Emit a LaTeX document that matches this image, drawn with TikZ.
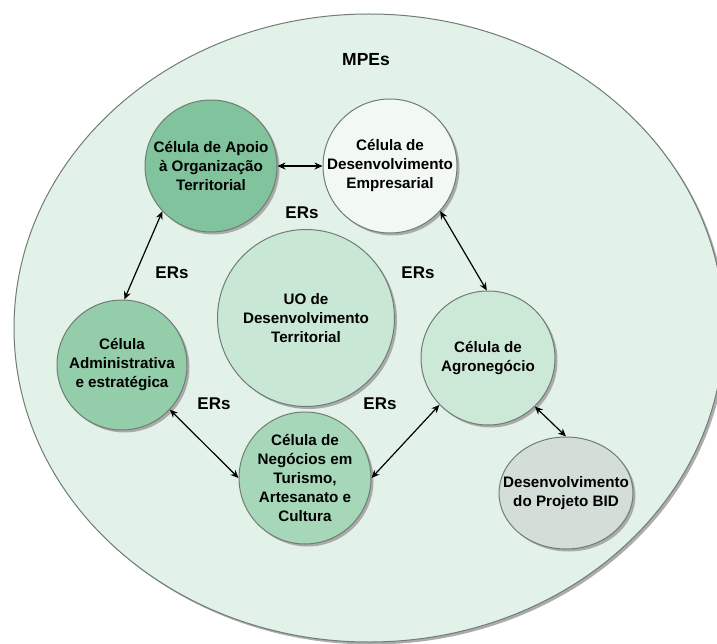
\documentclass[tikz,border=0pt]{standalone}
\usepackage{fontspec}
\setmainfont{Liberation Sans}
\usetikzlibrary{shapes.geometric,shadows,arrows.meta}

\definecolor{mpefill}{HTML}{E3F2E9}
\definecolor{apoiofill}{HTML}{80C39C}
\definecolor{admfill}{HTML}{93CDAA}
\definecolor{negfill}{HTML}{A6D7B9}
\definecolor{uofill}{HTML}{C9E7D5}
\definecolor{agrofill}{HTML}{CCE9D7}
\definecolor{empfill}{HTML}{F2F9F4}
\definecolor{bidfill}{HTML}{D4DED8}
\definecolor{rim}{HTML}{6F7D74}
\definecolor{shade}{HTML}{A3A3A3}

\tikzset{
  cell/.style={circle, draw=rim, line width=1pt, inner sep=0pt,
    drop shadow={shadow xshift=2.5pt, shadow yshift=-2.5pt, fill=shade, opacity=0.9}},
  celltext/.style={align=center, inner sep=0pt,
    font=\bfseries\fontsize{15.2}{19}\selectfont},
  erlabel/.style={inner sep=0pt, font=\bfseries\fontsize{17}{18}\selectfont},
  link/.style={{Stealth[length=8pt,width=7pt]}-{Stealth[length=8pt,width=7pt]}, line width=1.2pt, black},
}

\begin{document}
\begin{tikzpicture}[x=1pt, y=-1pt]
\useasboundingbox (0,0) rectangle (717,644);

% outer field of small businesses
\node (mpe) [ellipse, draw=rim, line width=1pt, fill=mpefill, inner sep=0pt,
  minimum width=710pt, minimum height=628pt,
  drop shadow={shadow xshift=2.5pt, shadow yshift=-2.5pt, fill=shade, opacity=0.9}] at (369,328) {};
\node (mpetitle) [inner sep=0pt, font=\bfseries\fontsize{17.5}{20}\selectfont] at (366,60) {MPEs};

% cells
\node (apoio) [cell, fill=apoiofill, minimum size=132pt] at (211,166) {};
\node (emp)   [cell, fill=empfill,   minimum size=134pt] at (390,166) {};
\node (adm)   [cell, fill=admfill,   minimum size=130pt] at (122,365) {};
\node (uo)    [cell, fill=uofill,    minimum size=177pt] at (306,318) {};
\node (agro)  [cell, fill=agrofill,  minimum size=134pt] at (488,358) {};
\node (neg)   [cell, fill=negfill,   minimum size=132pt] at (305,478) {};
\node (bid)   [cell, ellipse, fill=bidfill, minimum width=134pt, minimum height=112pt] at (566,493) {};

% cell captions
\node (tapoio) [celltext] at (apoio.center) {Célula de Apoio\\à Organização\\Territorial};
\node (temp)   [celltext] at (emp.center)   {Célula de\\Desenvolvimento\\Empresarial};
\node (tadm)   [celltext] at (adm.center)   {Célula\\Administrativa\\e estratégica};
\node (tuo)    [celltext] at (uo.center)    {UO de\\Desenvolvimento\\Territorial};
\node (tagro)  [celltext] at (agro.center)  {Célula de\\Agronegócio};
\node (tneg)   [celltext] at (neg.center)   {Célula de\\Negócios em\\Turismo,\\Artesanato e\\Cultura};
\node (tbid)   [celltext] at (bid.center)   {Desenvolvimento\\do Projeto BID};

% ER labels around the central unit
\node (er1) [erlabel] at (302,213) {ERs};
\node (er2) [erlabel] at (172,273) {ERs};
\node (er3) [erlabel] at (418,273) {ERs};
\node (er4) [erlabel] at (214,404) {ERs};
\node (er5) [erlabel] at (380,404) {ERs};

% links between cells
\draw[link] (apoio.0) -- (emp.180);
\draw[link] (apoio.223) -- (adm.88);
\draw[link] (emp.318) -- (agro.91);
\draw[link] (adm.317) -- (neg.180);
\draw[link] (neg.0) -- (agro.224);
\draw[link] (agro.314) -- (bid.90);
\end{tikzpicture}
\end{document}
